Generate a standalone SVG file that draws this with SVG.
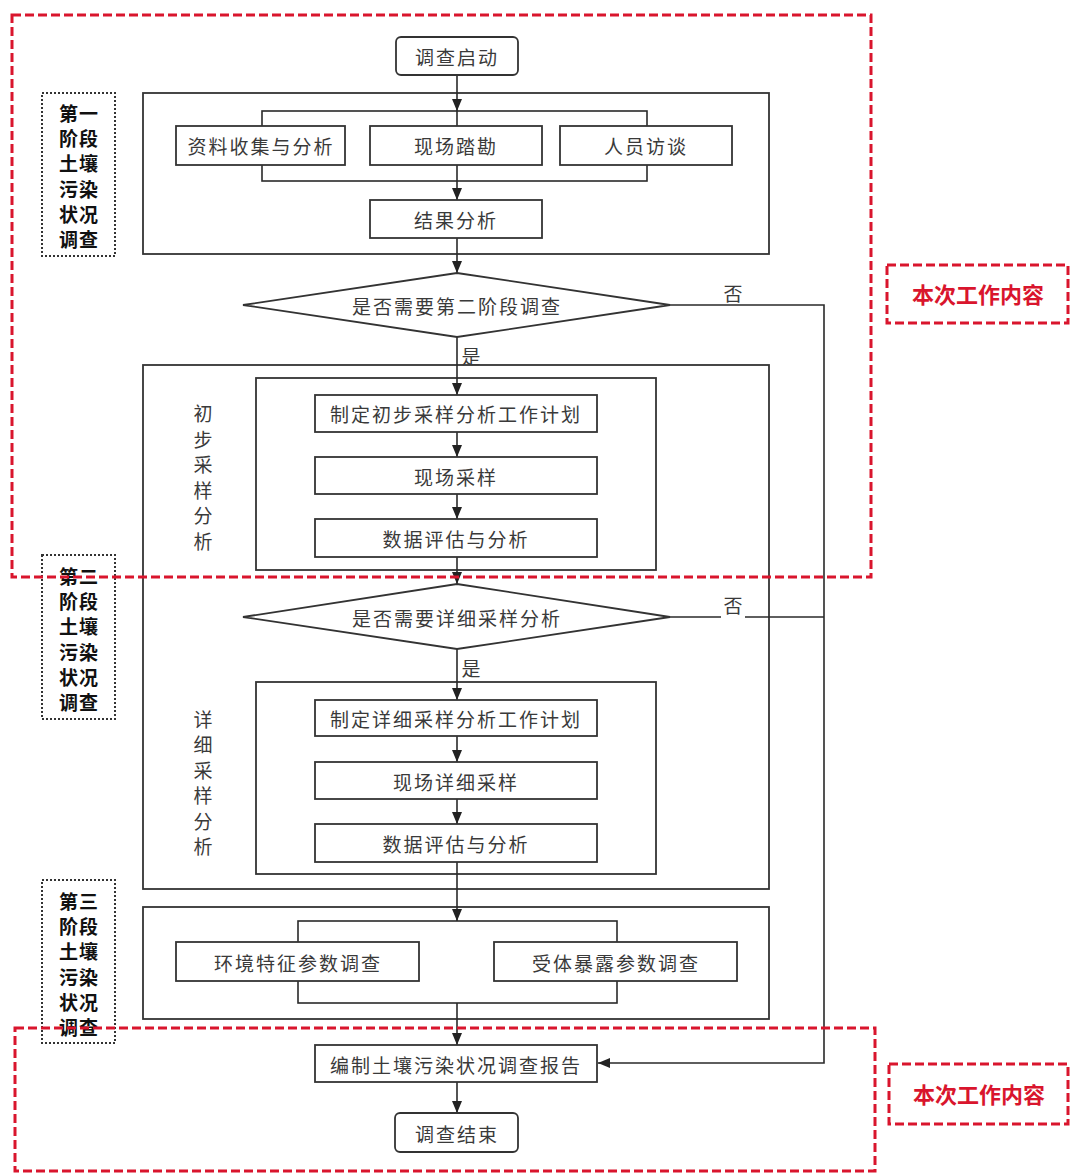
<svg xmlns="http://www.w3.org/2000/svg" width="1070" height="1173" viewBox="0 0 1070 1173">
<style>
.bg{fill:#fff}
.frame{fill:none;stroke:#333;stroke-width:1.8}
.box{fill:#fff;stroke:#333;stroke-width:1.8}
.dia{fill:#fff;stroke:#333;stroke-width:1.8}
.t{font-family:"Noto Sans CJK SC","Noto Sans",sans-serif;font-size:19px;fill:#3a3a3a;text-anchor:middle;dominant-baseline:central;letter-spacing:2px}
.vt{font-family:"Noto Sans CJK SC","Noto Sans",sans-serif;font-size:19px;fill:#3a3a3a;text-anchor:middle;dominant-baseline:central}
.lbl{font-family:"Noto Sans CJK SC","Noto Sans",sans-serif;font-size:19px;font-weight:bold;fill:#111;text-anchor:middle;dominant-baseline:central;letter-spacing:1px}
.dot{fill:none;stroke:#333;stroke-width:2;stroke-dasharray:2 2}
.red{fill:none;stroke:#d9152d;stroke-width:3;stroke-dasharray:9 4}
.redt{font-family:"Noto Sans CJK SC","Noto Sans",sans-serif;font-size:22px;font-weight:bold;fill:#d9152d;text-anchor:middle;dominant-baseline:central}
.ln{fill:none;stroke:#2a2a2a;stroke-width:1.6}
</style>
<defs>
<marker id="arr" viewBox="0 0 12 10" refX="12" refY="5" markerWidth="12" markerHeight="10" markerUnits="userSpaceOnUse" orient="auto">
<path d="M0,0 L12,5 L0,10 z" fill="#222"/>
</marker>
</defs>
<rect class="bg" x="0" y="0" width="1070" height="1173"/>

<g id="frames">
<rect id="phase1-frame" class="frame" x="143" y="93" width="626" height="161"/>
<rect id="phase2-frame" class="frame" x="143" y="365" width="626" height="524"/>
<rect id="prelim-frame" class="frame" x="256" y="378" width="400" height="192"/>
<rect id="detail-frame" class="frame" x="256" y="682" width="400" height="192"/>
<rect id="phase3-frame" class="frame" x="143" y="907" width="626" height="112"/>
</g>

<g id="connectors">
<rect class="ln" x="262" y="111" width="385" height="70"/>
<rect class="ln" x="298" y="921" width="319" height="82"/>
<path class="ln" d="M457,75 V111" marker-end="url(#arr)"/>
<path class="ln" d="M457,111 V126"/>
<path class="ln" d="M457,165 V200" marker-end="url(#arr)"/>
<path class="ln" d="M457,238 V273" marker-end="url(#arr)"/>
<path class="ln" d="M457,337 V395" marker-end="url(#arr)"/>
<path class="ln" d="M457,432 V457" marker-end="url(#arr)"/>
<path class="ln" d="M457,494 V519" marker-end="url(#arr)"/>
<path class="ln" d="M457,557 V584" marker-end="url(#arr)"/>
<path class="ln" d="M457,649 V700" marker-end="url(#arr)"/>
<path class="ln" d="M457,736 V762" marker-end="url(#arr)"/>
<path class="ln" d="M457,799 V824" marker-end="url(#arr)"/>
<path class="ln" d="M457,862 V921" marker-end="url(#arr)"/>
<path class="ln" d="M457,1003 V1045" marker-end="url(#arr)"/>
<path class="ln" d="M457,1082 V1113" marker-end="url(#arr)"/>
<path class="ln" d="M670,305 H824 V1063 H598" marker-end="url(#arr)"/>
<path class="ln" d="M670,617 H824"/>
<text class="vt" x="733" y="292">否</text>
<rect x="721" y="592" width="24" height="30" fill="#fff"/>
<text class="vt" x="733" y="604">否</text>
<text class="vt" x="471" y="355">是</text>
<text class="vt" x="471" y="667">是</text>
</g>

<g id="start"><rect class="box" x="396" y="37" width="122" height="38" rx="5"/><text class="t" x="457" y="56">调查启动</text></g>
<g id="collect"><rect class="box" x="176" y="126" width="169" height="39"/><text class="t" x="261" y="145">资料收集与分析</text></g>
<g id="survey"><rect class="box" x="370" y="126" width="172" height="39"/><text class="t" x="456" y="145">现场踏勘</text></g>
<g id="interview"><rect class="box" x="560" y="126" width="172" height="39"/><text class="t" x="646" y="145">人员访谈</text></g>
<g id="result"><rect class="box" x="370" y="200" width="172" height="38"/><text class="t" x="456" y="219">结果分析</text></g>
<g id="decision1"><polygon class="dia" points="457,273 670,305 457,337 243,305"/><text class="t" x="457" y="305">是否需要第二阶段调查</text></g>
<g id="prelim-label"><text class="vt" x="203" y="412">初<tspan x="203" dy="25.6">步</tspan><tspan x="203" dy="25.6">采</tspan><tspan x="203" dy="25.6">样</tspan><tspan x="203" dy="25.6">分</tspan><tspan x="203" dy="25.6">析</tspan></text></g>
<g id="prelim-plan"><rect class="box" x="315" y="395" width="282" height="37"/><text class="t" x="456" y="413">制定初步采样分析工作计划</text></g>
<g id="prelim-sample"><rect class="box" x="315" y="457" width="282" height="37"/><text class="t" x="456" y="476">现场采样</text></g>
<g id="prelim-eval"><rect class="box" x="315" y="519" width="282" height="38"/><text class="t" x="456" y="538">数据评估与分析</text></g>
<g id="decision2"><polygon class="dia" points="457,584 670,617 457,649 243,617"/><text class="t" x="457" y="617">是否需要详细采样分析</text></g>
<g id="detail-label"><text class="vt" x="203" y="718">详<tspan x="203" dy="25.4">细</tspan><tspan x="203" dy="25.4">采</tspan><tspan x="203" dy="25.4">样</tspan><tspan x="203" dy="25.4">分</tspan><tspan x="203" dy="25.4">析</tspan></text></g>
<g id="detail-plan"><rect class="box" x="315" y="700" width="282" height="36"/><text class="t" x="456" y="718">制定详细采样分析工作计划</text></g>
<g id="detail-sample"><rect class="box" x="315" y="762" width="282" height="37"/><text class="t" x="456" y="781">现场详细采样</text></g>
<g id="detail-eval"><rect class="box" x="315" y="824" width="282" height="38"/><text class="t" x="456" y="843">数据评估与分析</text></g>
<g id="env"><rect class="box" x="176" y="942" width="243" height="39"/><text class="t" x="298" y="962">环境特征参数调查</text></g>
<g id="receptor"><rect class="box" x="494" y="942" width="243" height="39"/><text class="t" x="616" y="962">受体暴露参数调查</text></g>
<g id="report"><rect class="box" x="315" y="1045" width="282" height="37"/><text class="t" x="456" y="1064">编制土壤污染状况调查报告</text></g>
<g id="end"><rect class="box" x="395" y="1113" width="123" height="39" rx="5"/><text class="t" x="457" y="1133">调查结束</text></g>

<g id="phase1-tag"><rect class="dot" x="42" y="93" width="73" height="163"/>
<text class="lbl" x="79" y="112">第一<tspan x="79" dy="25.2">阶段</tspan><tspan x="79" dy="25.2">土壤</tspan><tspan x="79" dy="25.2">污染</tspan><tspan x="79" dy="25.2">状况</tspan><tspan x="79" dy="25.2">调查</tspan></text></g>
<g id="phase2-tag"><rect class="dot" x="42" y="555" width="73" height="164"/>
<text class="lbl" x="79" y="575">第二<tspan x="79" dy="25.2">阶段</tspan><tspan x="79" dy="25.2">土壤</tspan><tspan x="79" dy="25.2">污染</tspan><tspan x="79" dy="25.2">状况</tspan><tspan x="79" dy="25.2">调查</tspan></text></g>
<g id="phase3-tag"><rect class="dot" x="42" y="880" width="73" height="163"/>
<text class="lbl" x="79" y="900">第三<tspan x="79" dy="25.2">阶段</tspan><tspan x="79" dy="25.2">土壤</tspan><tspan x="79" dy="25.2">污染</tspan><tspan x="79" dy="25.2">状况</tspan><tspan x="79" dy="25.2">调查</tspan></text></g>

<g id="scope-top"><rect class="red" x="12" y="15" width="859" height="562"/></g>
<g id="scope-top-tag"><rect class="red" x="887" y="265" width="181" height="58"/><text class="redt" x="978" y="293">本次工作内容</text></g>
<g id="scope-bottom"><rect class="red" x="15" y="1028" width="860" height="143"/></g>
<g id="scope-bottom-tag"><rect class="red" x="889" y="1064" width="179" height="60"/><text class="redt" x="979" y="1093">本次工作内容</text></g>
</svg>
